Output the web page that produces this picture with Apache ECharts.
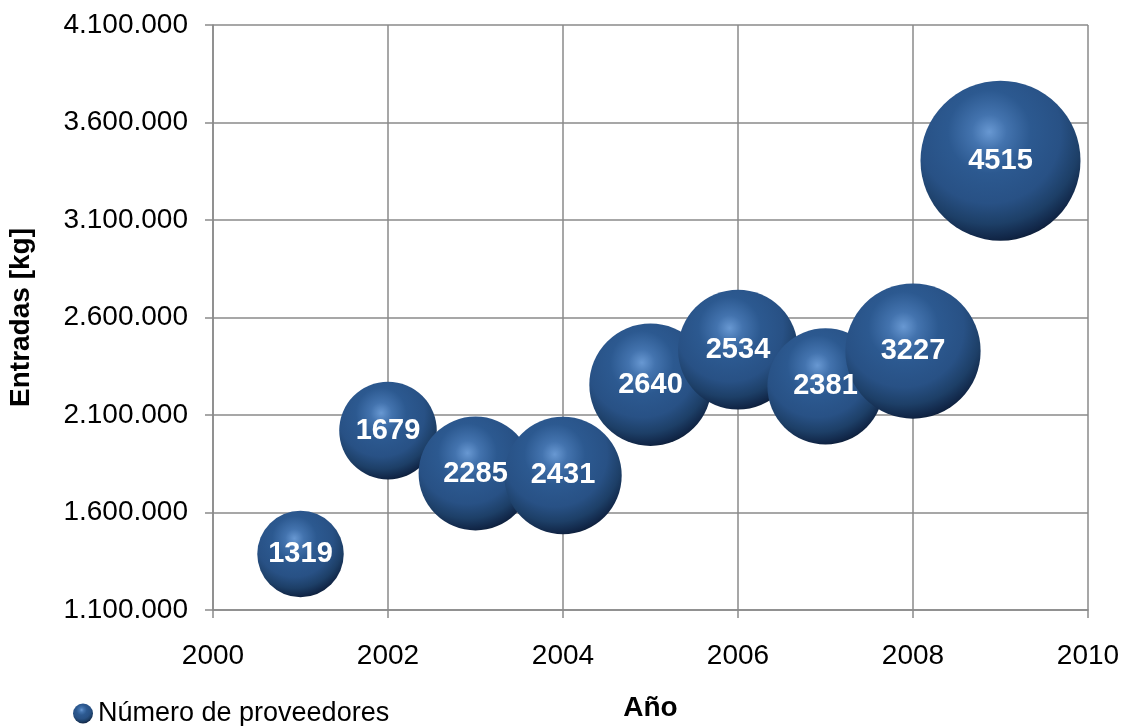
<!DOCTYPE html>
<html>
<head>
<meta charset="utf-8">
<script src="https://cdn.jsdelivr.net/npm/echarts@6/dist/echarts.min.js"></script>
<style>
  html, body { margin: 0; padding: 0; background: #fff; }
  #chart { width: 1130px; height: 726px; }
</style>
</head>
<body>
<div id="chart"></div>
<script>
// Annual intake (kg) and number of suppliers per year
const years = [2001, 2002, 2003, 2004, 2005, 2006, 2007, 2008, 2009];
const entradas = [1387000, 2020000, 1800000, 1790000, 2255000, 2435000, 2247000, 2428000, 3404000];
const proveedores = [1319, 1679, 2285, 2431, 2640, 2534, 2381, 3227, 4515];

const FONT = '"Liberation Sans", Arial, sans-serif';

function fmtThousands(v) {
  return String(Math.round(v)).replace(/\B(?=(\d{3})+(?!\d))/g, '.');
}

const points = years.map((y, i) => [y, entradas[i], proveedores[i]]);

// shaded sphere fill for each bubble
const sphere = {
  type: 'radial', x: 0.43, y: 0.32, r: 0.72,
  colorStops: [
    { offset: 0, color: '#6898d2' },
    { offset: 0.15, color: '#4373ae' },
    { offset: 0.36, color: '#2c5990' },
    { offset: 0.62, color: '#285185' },
    { offset: 0.8, color: '#1d3f67' },
    { offset: 0.93, color: '#112647' },
    { offset: 1, color: '#0a182d' }
  ]
};

const chart = echarts.init(document.getElementById('chart'), null, { renderer: 'canvas' });
chart.setOption({
  animation: false,
  backgroundColor: '#ffffff',
  grid: { left: 213, right: 42, top: 25, bottom: 116, containLabel: false, outerBoundsMode: 'none' },
  legend: {
    left: 68, top: 695,
    itemWidth: 20, itemHeight: 20, itemGap: 10,
    icon: 'circle',
    textStyle: { fontFamily: FONT, fontSize: 27, color: '#000' },
    data: ['Número de proveedores']
  },
  xAxis: {
    type: 'value', min: 2000, max: 2010, interval: 2,
    name: 'Año', nameLocation: 'middle', nameGap: 84,
    nameTextStyle: { fontFamily: FONT, fontSize: 28, fontWeight: 'bold', color: '#000' },
    axisLine: { show: true, lineStyle: { color: '#8a8a8a', width: 1.5 } },
    axisTick: { show: true, inside: false, length: 8, lineStyle: { color: '#8a8a8a', width: 1.5 } },
    axisLabel: { fontFamily: FONT, fontSize: 28, color: '#000', margin: 32, formatter: v => String(v) },
    splitLine: { show: true, lineStyle: { color: '#8a8a8a', width: 1.5 } }
  },
  yAxis: {
    type: 'value', min: 1100000, max: 4100000, interval: 500000,
    name: 'Entradas [kg]', nameLocation: 'middle', nameGap: 178, nameRotate: 90,
    nameTextStyle: { fontFamily: FONT, fontSize: 28, fontWeight: 'bold', color: '#000' },
    axisLine: { show: true, lineStyle: { color: '#8a8a8a', width: 1.5 } },
    axisTick: { show: true, inside: false, length: 8, lineStyle: { color: '#8a8a8a', width: 1.5 } },
    axisLabel: { fontFamily: FONT, fontSize: 28, color: '#000', margin: 25, formatter: fmtThousands },
    splitLine: { show: true, lineStyle: { color: '#8a8a8a', width: 1.5 } }
  },
  series: [{
    name: 'Número de proveedores',
    type: 'scatter',
    data: points,
    symbol: 'circle',
    symbolSize: d => 2.381 * Math.sqrt(d[2]),
    itemStyle: { color: sphere, opacity: 1 },
    label: {
      show: true, position: 'inside',
      formatter: p => String(p.value[2]),
      fontFamily: FONT, fontSize: 29, fontWeight: 'bold', color: '#ffffff'
    },
    emphasis: { disabled: true }
  }]
});
</script>
</body>
</html>
